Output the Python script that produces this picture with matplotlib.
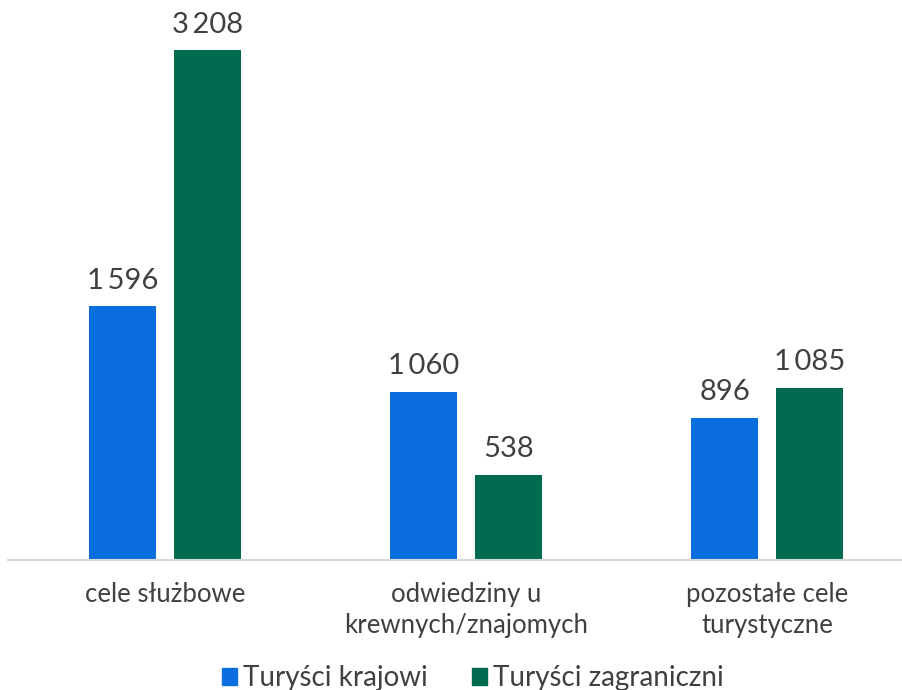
import matplotlib
matplotlib.use("Agg")
import matplotlib.pyplot as plt
import numpy as np
from matplotlib.patches import Patch

plt.rcParams['font.family'] = ['Lato', 'DejaVu Sans']

categories = ["cele służbowe", "odwiedziny u\nkrewnych/znajomych", "pozostałe cele\nturystyczne"]
series_names = ["Turyści krajowi", "Turyści zagraniczni"]
krajowi = [1596, 1060, 896]
zagraniczni = [3208, 538, 1085]
colors = ["#0A6EDE", "#006B4E"]

def fmt(v):
    s = f"{v:,}".replace(",", "\u2009")
    return s

fig = plt.figure(figsize=(9.03, 6.9), dpi=100)
ax = fig.add_axes([8 / 903, (690 - 560) / 690, 895 / 903, 556 / 690])

x = np.arange(len(categories))
w = 0.223
off = 0.141
text_color = "#404040"

for vals, o, c in ((krajowi, -off, colors[0]), (zagraniczni, off, colors[1])):
    bars = ax.bar(x + o, vals, width=w, color=c)
    for b, v in zip(bars, vals):
        ax.annotate(fmt(v), (b.get_x() + b.get_width() / 2, v),
                    xytext=(0, 9), textcoords="offset points",
                    ha="center", va="bottom", fontsize=21, color=text_color)

ax.set_xlim((8 - 165) / 301, (903 - 165) / 301)
ax.set_ylim(0, 3500)
for s in ("top", "right", "left"):
    ax.spines[s].set_visible(False)
ax.spines["bottom"].set_color("#D9D9D9")
ax.spines["bottom"].set_linewidth(1.5)
ax.set_yticks([])
ax.set_xticks(x)
ax.set_xticklabels(categories, fontsize=18.5, color=text_color, linespacing=1.3)
ax.tick_params(axis="x", length=0, pad=16)

handles = [Patch(color=c) for c in colors]
fig.legend(handles, series_names, loc="center", bbox_to_anchor=(473 / 903, 1 - 678 / 690),
           ncol=2, frameon=False, fontsize=20, handlelength=0.55, handleheight=0.55,
           handletextpad=0.2, columnspacing=1.6, labelcolor=text_color)

fig.savefig("out.png", dpi=100)
